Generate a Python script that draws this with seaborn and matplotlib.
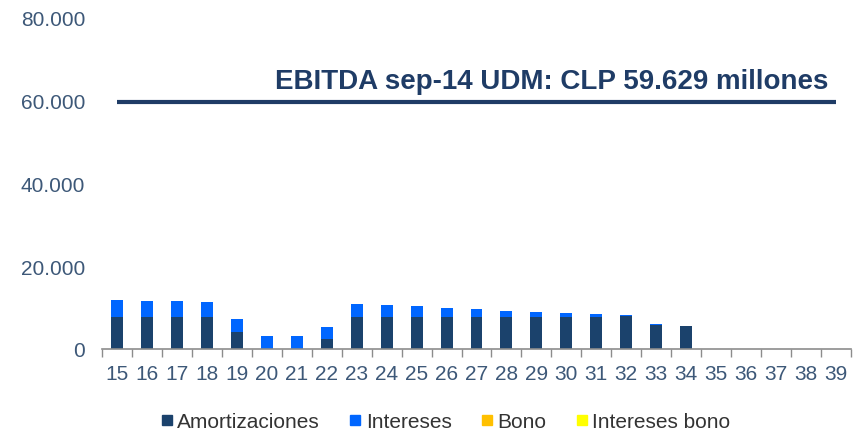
import numpy as np
import pandas as pd
import seaborn as sns
import matplotlib.pyplot as plt
from matplotlib.lines import Line2D

years = ['15', '16', '17', '18', '19', '20', '21', '22', '23', '24', '25', '26',
         '27', '28', '29', '30', '31', '32', '33', '34', '35', '36', '37', '38', '39']
amortizaciones = [7800, 7800, 7800, 7800, 4200, 0, 0, 2300, 7800, 7800, 7800, 7800,
                  7800, 7800, 7800, 7800, 7800, 7900, 5700, 5600, 0, 0, 0, 0, 0]
intereses = [4000, 3700, 3700, 3500, 3000, 3100, 3100, 3000, 3100, 2800, 2500, 2200,
             1900, 1500, 1200, 900, 650, 250, 300, 0, 0, 0, 0, 0, 0]
bono = [0] * 25
intereses_bono = [0] * 25
ebitda = 59629
ebitda_label = 'EBITDA sep-14 UDM: CLP 59.629 millones'

c_amort = '#1b426c'
c_int = '#0066ff'
c_bono = '#ffc000'
c_ibono = '#ffff00'
txt = '#3d5878'

sns.set_theme(style='white')
plt.rcParams['font.family'] = ['Liberation Sans', 'DejaVu Sans']

df = pd.DataFrame({'year': years, 'amort': amortizaciones, 'int': intereses,
                   'bono': bono, 'ibono': intereses_bono})
df['s1'] = df['amort'] + df['int']
df['s2'] = df['s1'] + df['bono']
df['s3'] = df['s2'] + df['ibono']

fig = plt.figure(figsize=(8.58, 4.35), dpi=100)
ax = fig.add_axes([102 / 858, 1 - 350 / 435, 749 / 858, 331 / 435])

# stacked: draw cumulative totals back to front
for col, c in [('s3', c_ibono), ('s2', c_bono), ('s1', c_int), ('amort', c_amort)]:
    sns.barplot(data=df, x='year', y=col, color=c, width=0.4, ax=ax,
                saturation=1, edgecolor='none', linewidth=0)

ax.plot([0, 24], [ebitda, ebitda], color='#1f3c66', lw=3, solid_capstyle='butt')
ax.text(23.75, 64700, ebitda_label, ha='right', va='center', fontsize=20,
        fontweight='bold', color='#1f3c66')

ax.set_ylim(0, 80000)
ax.set_xlim(-0.5, 24.5)
ax.set_yticks([0, 20000, 40000, 60000, 80000])
ax.set_yticklabels(['0', '20.000', '40.000', '60.000', '80.000'])
ax.set_xlabel('')
ax.set_ylabel('')
ax.tick_params(axis='both', labelsize=15, labelcolor=txt, length=0)
ax.tick_params(axis='y', pad=12)
ax.tick_params(axis='x', pad=11)
ax.set_xticks(np.arange(-0.5, 25, 1), minor=True)
ax.tick_params(axis='x', which='minor', length=6, color='#8c8c8c', width=1, direction='out', bottom=True)
for s in ['top', 'right', 'left']:
    ax.spines[s].set_visible(False)
ax.spines['bottom'].set_color('#8c8c8c')
ax.spines['bottom'].set_linewidth(1.2)

handles = [Line2D([], [], marker='s', ls='none', color=c, markersize=7.5)
           for c in [c_amort, c_int, c_bono, c_ibono]]
fig.legend(handles, ['Amortizaciones', 'Intereses', 'Bono', 'Intereses bono'],
           loc='center', bbox_to_anchor=(445 / 858, 1 - 423 / 435), ncol=4,
           frameon=False, fontsize=15, handletextpad=0.15, columnspacing=1.35,
           handlelength=0.7, labelcolor='#333333')

fig.savefig('out.png', dpi=100)
